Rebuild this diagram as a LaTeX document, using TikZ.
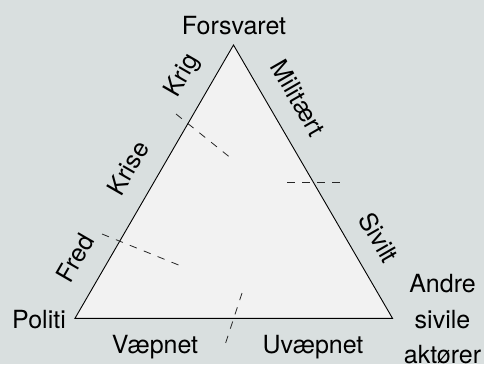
\documentclass[tikz,border=0pt]{standalone}
\usepackage{fontspec}
\setmainfont{TeX Gyre Heros}
\definecolor{bg}{HTML}{D9DFDF}
\definecolor{tri}{HTML}{F2F2F2}
\begin{document}
\begin{tikzpicture}[x=1pt,y=-1pt,
  lbl/.style={inner sep=0pt,font=\fontsize{25}{30}\selectfont},
  divider/.style={draw=black!85,line width=0.8pt,dash pattern=on 7.5pt off 7.5pt}]
\useasboundingbox (0,0) rectangle (484,364);
\fill[bg] (0,0) rectangle (484,364);
% triangle
\coordinate (top) at (233.5,45);
\coordinate (bl) at (75,318.3);
\coordinate (br) at (392.5,318.3);
\filldraw[fill=tri,draw=black,line width=0.9pt,line join=miter] (top) -- (bl) -- (br) -- cycle;
% dashed dividers
\coordinate (d1a) at (176,114); \coordinate (d1b) at (232,159);
\coordinate (d2a) at (287,182); \coordinate (d2b) at (340,182);
\coordinate (d3a) at (102,234); \coordinate (d3b) at (181,266);
\coordinate (d4a) at (242,293); \coordinate (d4b) at (225,345);
\draw[divider] (d1a) -- (d1b);
\draw[divider] (d2a) -- (d2b);
\draw[divider] (d3a) -- (d3b);
\draw[divider] (d4a) -- (d4b);
% corner labels
\node[lbl,anchor=base] (forsvaret) at (234,34) {Forsvaret};
\node[lbl,anchor=base east] (politi) at (66,328) {Politi};
\node[lbl,anchor=base] (andre) at (442.5,292.5) {Andre};
\node[lbl,anchor=base] (sivile) at (442.5,328) {sivile};
\node[lbl,anchor=base] (aktorer) at (442.5,363.5) {aktører};
% side labels
\node[lbl,anchor=base] (vaepnet) at (155,353) {Væpnet};
\node[lbl,anchor=base] (uvaepnet) at (313,353) {Uvæpnet};
\node[lbl,rotate=60] (krig) at (183,76) {Krig};
\node[lbl,rotate=60] (krise) at (128,168) {Krise};
\node[lbl,rotate=60] (fred) at (75.5,258) {Fred};
\node[lbl,rotate=-60] (militaert) at (298.3,98.3) {Militært};
\node[lbl,rotate=-60] (sivilt) at (379,237.5) {Sivilt};
\end{tikzpicture}
\end{document}
